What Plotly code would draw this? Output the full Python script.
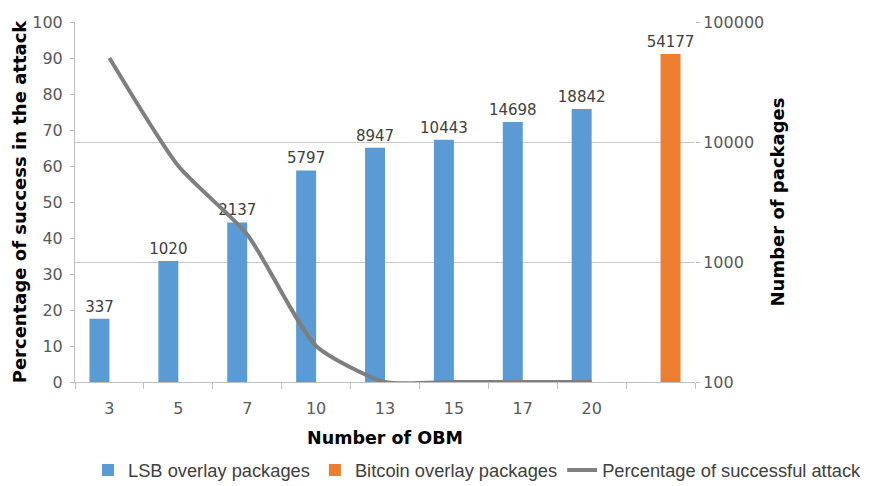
import plotly.graph_objects as go

categories = ["3", "5", "7", "10", "13", "15", "17", "20", " "]
lsb_packages = [337, 1020, 2137, 5797, 8947, 10443, 14698, 18842, None]
bitcoin_packages = [None, None, None, None, None, None, None, None, 54177]
success_pct = [90, 60, 41, 10, 0, 0, 0, 0, None]

FONT = "DejaVu Sans"
L, R, T, B = 75, 174, 22, 104
W, H = 869, 486
PW, PH = W - L - R, H - T - B

fig = go.Figure()
fig.add_trace(go.Bar(
    x=categories, y=lsb_packages, name="LSB overlay packages",
    marker_color="#5B9BD5", yaxis="y",
    text=[str(v) if v is not None else "" for v in lsb_packages],
    textposition="outside", cliponaxis=False, constraintext="none",
    textfont=dict(size=15, color="#404040", family=FONT),
))
fig.add_trace(go.Bar(
    x=categories, y=bitcoin_packages, name="Bitcoin overlay packages",
    marker_color="#ED7D31", yaxis="y",
    text=[str(v) if v is not None else "" for v in bitcoin_packages],
    textposition="outside", cliponaxis=False, constraintext="none",
    textfont=dict(size=15, color="#404040", family=FONT),
))
fig.add_trace(go.Scatter(
    x=categories, y=success_pct, name="Percentage of successful attack",
    mode="lines", line=dict(color="#7F7F7F", width=4, shape="spline", smoothing=0.6),
    yaxis="y2", connectgaps=False,
))

fig.update_layout(
    template="none",
    width=W, height=H,
    margin=dict(l=L, r=R, t=T, b=B, autoexpand=False),
    paper_bgcolor="white", plot_bgcolor="white",
    font=dict(family=FONT, color="#595959", size=16),
    barmode="group", bargap=0.42, bargroupgap=0,
    showlegend=True,
    legend=dict(orientation="h", x=(867 - L) / PW, xanchor="right",
                y=-(470 - (H - B)) / PH, yanchor="middle",
                font=dict(size=18.3, color="#404040", family="Liberation Sans"),
                itemwidth=30, tracegroupgap=0, bgcolor="rgba(0,0,0,0)", borderwidth=0),
    xaxis=dict(
        type="category", tickson="boundaries", ticks="outside", ticklen=6,
        tickcolor="#BFBFBF", showline=True, linecolor="#BFBFBF", linewidth=1,
        showgrid=False, zeroline=False, automargin=False, ticklabelstandoff=12,
        tickfont=dict(size=16, color="#595959"),
        title=dict(text="<b>Number of OBM</b>", font=dict(size=17.5, color="#000000"), standoff=14),
    ),
    yaxis=dict(
        type="log", range=[2, 5], side="right", automargin=False,
        tickvals=[100, 1000, 10000, 100000], ticktext=["100", "1000", "10000", "100000"],
        showgrid=True, gridcolor="#C8C8C8", gridwidth=1,
        ticks="outside", ticklen=4, tickcolor="#BFBFBF",
        showline=False, zeroline=False,
        tickfont=dict(size=16, color="#595959"),
        title=dict(text="<b>Number of packages</b>", font=dict(size=18, color="#000000"), standoff=8),
    ),
    yaxis2=dict(
        range=[0, 100], overlaying="y", side="left", automargin=False,
        tickvals=list(range(0, 101, 10)),
        showgrid=False, zeroline=False,
        showline=True, linecolor="#BFBFBF", linewidth=1,
        ticks="outside", ticklen=4, tickcolor="#BFBFBF", ticklabelstandoff=4,
        tickfont=dict(size=16, color="#595959"),
        title=dict(text="<b>Percentage of success in the attack</b>", font=dict(size=18, color="#000000"), standoff=0),
    ),
)

fig.write_html("out.html", config={"displayModeBar": False},
               post_script="document.body.style.margin='0';")
